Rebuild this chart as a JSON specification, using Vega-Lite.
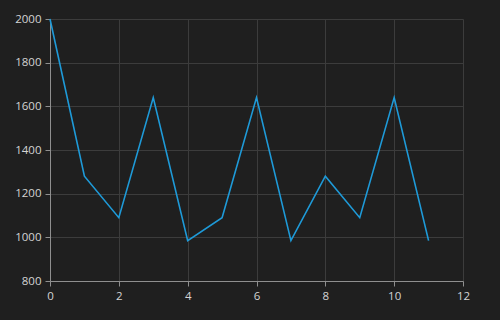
{
  "$schema": "https://vega.github.io/schema/vega-lite/v6.json",
  "autosize": "none",
  "width": 413,
  "height": 262,
  "padding": {"left": 50, "top": 19, "right": 37, "bottom": 39},
  "background": "#1f1f1f",
  "config": {
    "view": {"stroke": null},
    "axis": {
      "labelFont": "Open Sans",
      "labelFontSize": 11.5,
      "labelColor": "#d4d4d4",
      "labelFlush": false,
      "domainColor": "#8f8f8f",
      "tickColor": "#8f8f8f",
      "gridColor": "#3c3c3c",
      "titleColor": "#d0d0d0"
    }
  },
  "data": {
    "values": [
      {"x": 0, "y": 2000},
      {"x": 1, "y": 1280},
      {"x": 2, "y": 1090},
      {"x": 3, "y": 1640},
      {"x": 4, "y": 985},
      {"x": 5, "y": 1090},
      {"x": 6, "y": 1640},
      {"x": 7, "y": 985},
      {"x": 8, "y": 1280},
      {"x": 9, "y": 1090},
      {"x": 10, "y": 1640},
      {"x": 11, "y": 985}
    ]
  },
  "mark": {"type": "line", "color": "#1e9ad8", "strokeWidth": 1.6},
  "encoding": {
    "x": {"field": "x", "type": "quantitative", "scale": {"domain": [0, 12], "nice": false}, "axis": {"title": null, "values": [0, 2, 4, 6, 8, 10, 12], "format": "d", "labelPadding": 4}},
    "y": {"field": "y", "type": "quantitative", "scale": {"domain": [800, 2000], "nice": false, "zero": false}, "axis": {"title": null, "values": [800, 1000, 1200, 1400, 1600, 1800, 2000], "format": "d", "labelPadding": 4}}
  }
}
